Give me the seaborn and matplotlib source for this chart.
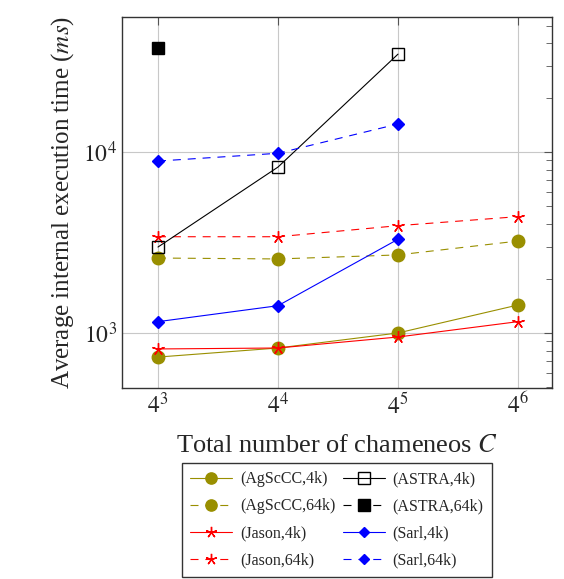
import matplotlib
matplotlib.use("Agg")
import matplotlib.pyplot as plt
import seaborn as sns
import numpy as np
from matplotlib.lines import Line2D

sns.set_style("white")
plt.rcParams["font.family"] = ["Liberation Serif", "DejaVu Serif"]
plt.rcParams["mathtext.fontset"] = "stix"

chameneos = [64, 256, 1024, 4096]
exponents = [3, 4, 5, 6]

agsccc_4k = [736, 826, 1000, 1428]
agsccc_64k = [2595, 2565, 2700, 3222]
astra_4k = [2985, 8260, 34750]
astra_64k = [37600]
jason_4k = [816, 826, 950, 1155]
jason_64k = [3403, 3403, 3917, 4395]
sarl_4k = [1155, 1415, 3296]
sarl_64k = [8913, 9840, 14290]

olive = "#998f00"
star = (5, 2, 0)
dash_pat = (7.2, 6.2)

series = [
    ("(AgScCC,4k)", agsccc_4k, olive, "-", "o", olive, 9),
    ("(AgScCC,64k)", agsccc_64k, olive, "--", "o", olive, 9),
    ("(Jason,4k)", jason_4k, "red", "-", star, "red", 9),
    ("(Jason,64k)", jason_64k, "red", "--", star, "red", 9),
    ("(ASTRA,4k)", astra_4k, "black", "-", "s", "none", 9),
    ("(ASTRA,64k)", astra_64k, "black", "--", "s", "black", 9),
    ("(Sarl,4k)", sarl_4k, "blue", "-", "D", "blue", 6),
    ("(Sarl,64k)", sarl_64k, "blue", "--", "D", "blue", 6),
]

fig = plt.figure(figsize=(5.64, 5.79), dpi=100)
ax = fig.add_axes([0.2163, 0.3299, 0.7624, 0.6407])

handles = []
for label, vals, color, ls, marker, mfc, ms in series:
    x = chameneos[:len(vals)]
    sns.lineplot(x=x, y=vals, ax=ax, color=color, linestyle=ls, linewidth=0.8,
                 marker=marker, markerfacecolor=mfc, markeredgecolor=color,
                 markersize=ms, markeredgewidth=1.0, legend=False)
    h = Line2D([0], [0], color=color, linestyle=ls, linewidth=0.8, marker=marker,
               markerfacecolor=mfc, markeredgecolor=color, markersize=ms * 0.9,
               markeredgewidth=1.0)
    if ls == "--":
        h.set_dashes(dash_pat)
    handles.append((h, label))

for line in ax.get_lines():
    if line.get_linestyle() == "--":
        line.set_dashes(dash_pat)

ax.set_xscale("log", base=4)
ax.set_yscale("log")
ax.set_xlim(4 ** 2.7, 4 ** 6.283)
ax.set_ylim(10 ** 2.696, 10 ** 4.746)
ax.set_xticks(chameneos)
ax.set_xticklabels([f"$4^{{{e}}}$" for e in exponents])
ax.xaxis.set_minor_locator(matplotlib.ticker.NullLocator())
ax.set_yticks([1e3, 1e4])
ax.set_yticklabels(["$10^{3}$", "$10^{4}$"])

ax.grid(True, which="major", color="#c8c8c8", linewidth=0.8)
ax.tick_params(which="both", direction="in", top=True, right=True,
               labelsize=17, color="#555555")
ax.tick_params(which="major", length=6)
ax.tick_params(which="minor", length=4)
for s in ax.spines.values():
    s.set_color("#333333")
    s.set_linewidth(1.0)

ax.set_xlabel("Total number of chameneos $C$", fontsize=19, labelpad=12)
ax.set_ylabel("Average internal execution time ($ms$)", fontsize=18, labelpad=5)

leg = fig.legend([h for h, _ in handles], [l for _, l in handles],
                 loc="lower center", bbox_to_anchor=(0.5975, -0.010), ncol=2,
                 fontsize=11.5, frameon=True, fancybox=False, edgecolor="black",
                 handlelength=2.6, columnspacing=0.5, labelspacing=0.7,
                 borderpad=0.5, handletextpad=0.5)
leg.get_frame().set_linewidth(1.0)

fig.savefig("out.png", dpi=100)
